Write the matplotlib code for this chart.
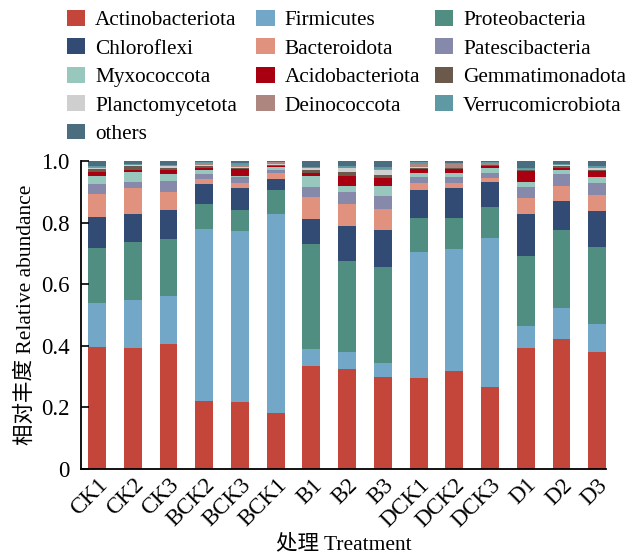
import matplotlib
matplotlib.use("Agg")
import matplotlib.pyplot as plt
from matplotlib.patches import Patch
import numpy as np

samples = ["CK1", "CK2", "CK3", "BCK2", "BCK3", "BCK1", "B1", "B2", "B3",
           "DCK1", "DCK2", "DCK3", "D1", "D2", "D3"]

# relative abundance of each phylum per sample (stacked bottom to top)
actinobacteriota = [0.396, 0.394, 0.407, 0.222, 0.216, 0.181, 0.334, 0.325, 0.300,
                    0.295, 0.317, 0.266, 0.394, 0.423, 0.380]
firmicutes = [0.144, 0.154, 0.156, 0.556, 0.556, 0.648, 0.057, 0.056, 0.043,
              0.411, 0.398, 0.484, 0.069, 0.100, 0.090]
proteobacteria = [0.179, 0.188, 0.182, 0.081, 0.070, 0.077, 0.338, 0.294, 0.314,
                  0.108, 0.100, 0.100, 0.227, 0.252, 0.251]
chloroflexi = [0.098, 0.092, 0.097, 0.065, 0.071, 0.036, 0.082, 0.114, 0.119,
               0.093, 0.097, 0.081, 0.138, 0.094, 0.117]
bacteroidota = [0.075, 0.083, 0.058, 0.018, 0.016, 0.020, 0.072, 0.070, 0.068,
                0.022, 0.018, 0.015, 0.051, 0.051, 0.052]
patescibacteria = [0.033, 0.022, 0.036, 0.015, 0.018, 0.010, 0.034, 0.039, 0.043,
                   0.019, 0.018, 0.016, 0.037, 0.038, 0.040]
myxococcota = [0.026, 0.030, 0.022, 0.012, 0.005, 0.008, 0.033, 0.022, 0.033,
               0.013, 0.014, 0.014, 0.017, 0.011, 0.018]
acidobacteriota = [0.012, 0.008, 0.011, 0.009, 0.022, 0.005, 0.012, 0.032, 0.026,
                   0.014, 0.012, 0.009, 0.033, 0.009, 0.020]
gemmatimonadota = [0.011, 0.011, 0.007, 0.006, 0.003, 0.002, 0.009, 0.011, 0.009,
                   0.003, 0.002, 0.002, 0.003, 0.004, 0.004]
planctomycetota = [0.003, 0.004, 0.006, 0.002, 0.002, 0.002, 0.005, 0.013, 0.016,
                   0.002, 0.002, 0.001, 0.003, 0.004, 0.004]
deinococcota = [0.003, 0.002, 0.003, 0.008, 0.009, 0.006, 0.001, 0.002, 0.002,
                0.010, 0.011, 0.006, 0.001, 0.001, 0.001]
verrucomicrobiota = [0.004, 0.001, 0.002, 0.002, 0.005, 0.001, 0.004, 0.005, 0.007,
                     0.005, 0.003, 0.002, 0.005, 0.002, 0.005]
others = [0.016, 0.011, 0.013, 0.004, 0.007, 0.004, 0.019, 0.017, 0.020,
          0.005, 0.008, 0.004, 0.022, 0.011, 0.018]

phyla = ["Actinobacteriota", "Firmicutes", "Proteobacteria", "Chloroflexi",
         "Bacteroidota", "Patescibacteria", "Myxococcota", "Acidobacteriota",
         "Gemmatimonadota", "Planctomycetota", "Deinococcota",
         "Verrucomicrobiota", "others"]
series = [actinobacteriota, firmicutes, proteobacteria, chloroflexi, bacteroidota,
          patescibacteria, myxococcota, acidobacteriota, gemmatimonadota,
          planctomycetota, deinococcota, verrucomicrobiota, others]
colors = ["#c4453a", "#72a7c8", "#4f8e80", "#324b75", "#e0927e", "#8789ab",
          "#98c7be", "#a80010", "#6b5a4b", "#cfcfcf", "#ae8680", "#5f9aa4",
          "#4a6d80"]

serif = ["Liberation Serif", "Noto Sans CJK SC"]
plt.rcParams["font.family"] = serif

fig = plt.figure(figsize=(6.38, 5.55), dpi=100)
ax = fig.add_axes([0.127, 0.155, 0.823, 0.555])

x = np.arange(len(samples))
bottom = np.zeros(len(samples))
for name, vals, c in zip(phyla, series, colors):
    v = np.array(vals)
    ax.bar(x, v, width=0.5, bottom=bottom, color=c, label=name, linewidth=0)
    bottom += v

ax.set_xlim(-0.45, 14.25)
ax.set_ylim(0, 1.0)
ax.set_yticks([0, 0.2, 0.4, 0.6, 0.8, 1.0])
ax.set_yticklabels(["0", "0.2", "0.4", "0.6", "0.8", "1.0"])
ax.set_xticks(x)
ax.set_xticklabels(samples, rotation=45, ha="right", va="top",
                   rotation_mode="anchor")
ax.tick_params(axis="y", direction="in", length=6, width=1.2, labelsize=16.5, pad=8)
ax.tick_params(axis="x", length=0, labelsize=16.5, pad=4)
for s in ["top", "right"]:
    ax.spines[s].set_visible(False)
for s in ["left", "bottom"]:
    ax.spines[s].set_linewidth(1.3)

ax.set_ylabel("相对丰度 Relative abundance", fontsize=15.5, labelpad=4)
ax.set_xlabel("处理 Treatment", fontsize=15.5, labelpad=2)

# legend: three fixed columns, filled row by row
handles = [Patch(facecolor=c, edgecolor="none") for c in colors]
ncol = 3
col_x = [0.105, 0.402, 0.682]
for col in range(ncol):
    idx = list(range(col, len(phyla), ncol))
    fig.legend([handles[i] for i in idx], [phyla[i] for i in idx],
               loc="upper left", bbox_to_anchor=(col_x[col], 0.982),
               frameon=False, fontsize=15.3, handlelength=0.85,
               handleheight=0.75, handletextpad=0.47, labelspacing=0.39,
               borderpad=0.0, borderaxespad=0.0)

fig.savefig("out.png", dpi=100)
